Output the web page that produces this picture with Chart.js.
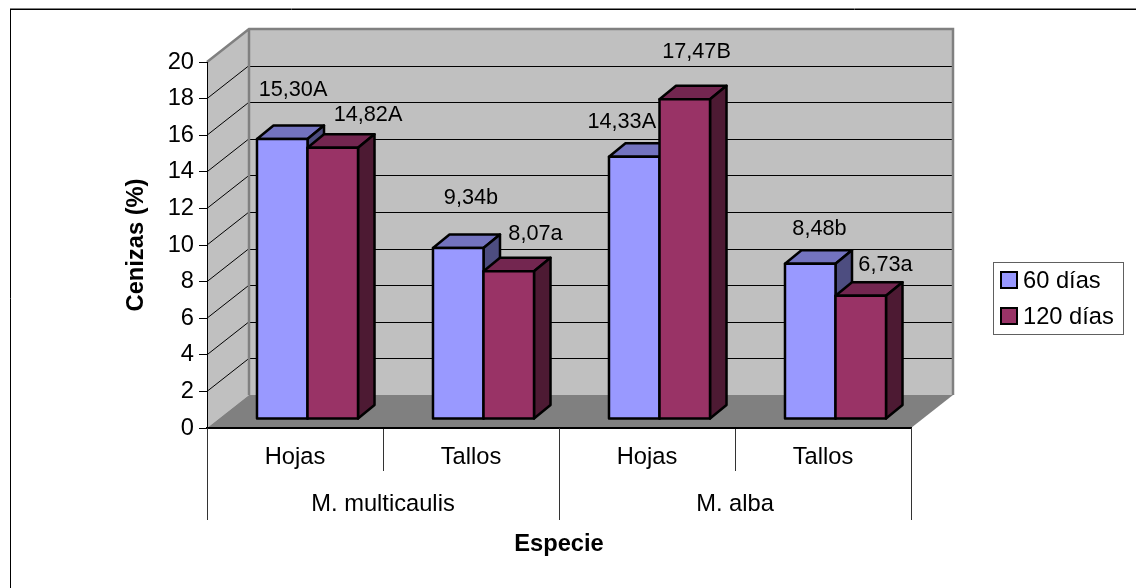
<!DOCTYPE html>
<html>
<head>
<meta charset="utf-8">
<title>Cenizas por especie</title>
<style>
  html, body { margin: 0; padding: 0; background: #fff; }
  #wrap { position: relative; width: 1136px; height: 588px; }
</style>
<script src="https://cdn.jsdelivr.net/npm/chart.js@4/dist/chart.umd.min.js"></script>
</head>
<body>
<div id="wrap"><canvas id="chart" width="1136" height="588"></canvas></div>
<script>
// Ash content by plant part, species and harvest age
const parts = ['Hojas', 'Tallos', 'Hojas', 'Tallos'];
const species = ['M. multicaulis', 'M. alba'];
const seriesNames = ['60 días', '120 días'];
const values60 = [15.30, 9.34, 14.33, 8.48];
const values120 = [14.82, 8.07, 17.47, 6.73];
const letters60 = ['A', 'b', 'A', 'b'];
const letters120 = ['A', 'a', 'B', 'a'];

const FONT = '"Liberation Sans", Arial, sans-serif';
const TEXT_SIZE = 23.7;
const VALUE_SIZE = 21.7;

// Perspective of the box: wall depth, and how far bars stand in from the front
const WALL = { dx: 42, dy: -33 };
const BAR_INSET = { dx: 12.5, dy: -9 };
const BAR_DEPTH = { dx: 16.5, dy: -13.5 };

const palettes = [
  { front: '#9999FF', top: '#7373BF', side: '#4D4D80' },
  { front: '#993366', top: '#732650', side: '#4D1A33' }
];
// Hand-placed label centres, relative to each bar's element position
const labelShift = [
  [[23.25, -58], [47.75, -42]],
  [[25.25, -59], [39.25, -46]],
  [[0, -44], [24.25, -56]],
  [[21.75, -44], [37.25, -40]]
];

function poly(ctx, pts, fill, stroke, width) {
  ctx.beginPath();
  pts.forEach((p, i) => i ? ctx.lineTo(p[0], p[1]) : ctx.moveTo(p[0], p[1]));
  ctx.closePath();
  if (fill) { ctx.fillStyle = fill; ctx.fill(); }
  if (stroke) { ctx.strokeStyle = stroke; ctx.lineWidth = width; ctx.stroke(); }
}

function line(ctx, x1, y1, x2, y2, color, width) {
  ctx.beginPath();
  ctx.moveTo(x1, y1);
  ctx.lineTo(x2, y2);
  ctx.strokeStyle = color;
  ctx.lineWidth = width;
  ctx.stroke();
}

const boxPlugin = {
  id: 'box3d',
  beforeDraw(chart) {
    const { ctx, chartArea: a, scales: { y } } = chart;
    const d = WALL;
    ctx.save();
    // top and left edges of the figure frame
    line(ctx, 10, 8.5, 1136, 8.5, '#808080', 1);
    line(ctx, 10, 9.5, 1136, 9.5, '#000', 1);
    line(ctx, 10.5, 9, 10.5, 588, '#000', 1);
    // left wall and back wall
    poly(ctx, [[a.left, a.top], [a.left + d.dx, a.top + d.dy], [a.left + d.dx, a.bottom + d.dy], [a.left, a.bottom]], '#C0C0C0');
    poly(ctx, [[a.left + d.dx, a.top + d.dy], [a.right + d.dx, a.top + d.dy], [a.right + d.dx, a.bottom + d.dy], [a.left + d.dx, a.bottom + d.dy]], '#C0C0C0');
    // gridlines wrap from the left wall onto the back wall
    y.ticks.forEach(t => {
      if (t.value === 0 || t.value === 20) return;
      const py = y.getPixelForValue(t.value);
      line(ctx, a.left, py, a.left + d.dx, py + d.dy, '#000', 1);
      line(ctx, a.left + d.dx, Math.round(py + d.dy) + 0.5, a.right + d.dx, Math.round(py + d.dy) + 0.5, '#000', 1);
    });
    // floor
    poly(ctx, [[a.left, a.bottom], [a.left + d.dx, a.bottom + d.dy], [a.right + d.dx, a.bottom + d.dy], [a.right, a.bottom]], '#808080');
    // wall edges
    ctx.lineJoin = 'miter';
    ctx.beginPath();
    ctx.moveTo(a.left, a.top);
    ctx.lineTo(a.left + d.dx, a.top + d.dy);
    ctx.lineTo(a.right + d.dx, a.top + d.dy);
    ctx.lineTo(a.right + d.dx, a.bottom + d.dy);
    ctx.moveTo(a.left + d.dx, a.top + d.dy);
    ctx.lineTo(a.left + d.dx, a.bottom + d.dy);
    ctx.strokeStyle = '#808080';
    ctx.lineWidth = 2.5;
    ctx.stroke();
    ctx.restore();
  },
  // Bars get a front, a top and a side face, from the bar elements' own geometry
  beforeDatasetsDraw(chart) {
    const { ctx } = chart;
    const d = BAR_DEPTH, s = BAR_INSET;
    ctx.save();
    ctx.lineJoin = 'round';
    parts.forEach((_, i) => {
      chart.data.datasets.forEach((ds, k) => {
        const el = chart.getDatasetMeta(k).data[i];
        const c = palettes[k];
        const l = el.x - el.width / 2 + s.dx, r = el.x + el.width / 2 + s.dx;
        const t = el.y + s.dy, b = el.base + s.dy;
        poly(ctx, [[l, t], [l + d.dx, t + d.dy], [r + d.dx, t + d.dy], [r, t]], c.top, '#000', 2.5);
        poly(ctx, [[r, t], [r + d.dx, t + d.dy], [r + d.dx, b + d.dy], [r, b]], c.side, '#000', 2.5);
        poly(ctx, [[l, t], [r, t], [r, b], [l, b]], c.front, '#000', 2.5);
      });
    });
    ctx.restore();
    return false;
  },
  afterDraw(chart) {
    const { ctx, chartArea: a, scales: { x } } = chart;
    ctx.save();
    ctx.fillStyle = '#000';
    ctx.textAlign = 'center';
    ctx.textBaseline = 'middle';
    ctx.font = VALUE_SIZE + 'px ' + FONT;
    // value labels
    chart.data.datasets.forEach((ds, k) => {
      const meta = chart.getDatasetMeta(k);
      const letters = k ? letters120 : letters60;
      ds.data.forEach((v, i) => {
        const el = meta.data[i];
        const text = v.toFixed(2).replace('.', ',') + letters[i];
        const sh = labelShift[i][k];
        ctx.fillText(text, el.x + sh[0], el.y + sh[1]);
      });
    });
    ctx.font = TEXT_SIZE + 'px ' + FONT;
    // second level of the category axis: species names and their separators
    const unit = (x.getPixelForValue(1) - x.getPixelForValue(0));
    const edge = i => x.getPixelForValue(i) - unit / 2;
    species.forEach((name, g) => {
      const from = edge(g * 2), to = edge(g * 2 + 2);
      ctx.fillText(name, (from + to) / 2, 504);
      line(ctx, Math.round(from) + 0.5, a.bottom, Math.round(from) + 0.5, 520, '#333', 1);
      line(ctx, Math.round(to) + 0.5, a.bottom, Math.round(to) + 0.5, 520, '#333', 1);
    });
    // axis titles
    ctx.font = 'bold ' + TEXT_SIZE + 'px ' + FONT;
    ctx.fillText('Especie', (a.left + a.right) / 2, 544);
    ctx.translate(136, 245);
    ctx.rotate(-Math.PI / 2);
    ctx.fillText('Cenizas (%)', 0, 0);
    ctx.restore();
    // legend
    ctx.save();
    ctx.strokeStyle = '#606060';
    ctx.lineWidth = 1;
    ctx.strokeRect(993.5, 262.5, 130, 72);
    seriesNames.forEach((name, k) => {
      const cy = 280 + k * 36;
      ctx.fillStyle = palettes[k].front;
      ctx.strokeStyle = '#000';
      ctx.lineWidth = 2;
      ctx.fillRect(1001, cy - 8, 16, 16);
      ctx.strokeRect(1001, cy - 8, 16, 16);
      ctx.fillStyle = '#000';
      ctx.font = TEXT_SIZE + 'px ' + FONT;
      ctx.textAlign = 'left';
      ctx.textBaseline = 'middle';
      ctx.fillText(name, 1023, cy + 1);
    });
    ctx.restore();
  }
};

new Chart(document.getElementById('chart'), {
  type: 'bar',
  data: {
    labels: parts,
    datasets: [
      { label: seriesNames[0], data: values60, backgroundColor: palettes[0].front, categoryPercentage: 0.574, barPercentage: 1 },
      { label: seriesNames[1], data: values120, backgroundColor: palettes[1].front, categoryPercentage: 0.574, barPercentage: 1 }
    ]
  },
  plugins: [boxPlugin],
  options: {
    responsive: false,
    animation: false,
    layout: { padding: { left: 0, top: 62, right: 225, bottom: 0 } },
    plugins: { legend: { display: false }, tooltip: { enabled: false } },
    scales: {
      x: {
        type: 'category',
        offset: true,
        afterFit(scale) { scale.height = 160; },
        grid: { drawOnChartArea: false, drawTicks: true, tickLength: 43, color: '#333', lineWidth: 1 },
        border: { color: '#000', width: 2 },
        ticks: {
          color: '#000',
          maxRotation: 0,
          autoSkip: false,
          padding: -28,
          font: { family: FONT, size: TEXT_SIZE }
        }
      },
      y: {
        min: 0,
        max: 20,
        afterFit(scale) { scale.width = 207; },
        grid: { drawOnChartArea: false, drawTicks: true, tickLength: 8, color: '#000', lineWidth: 1 },
        border: { color: '#000', width: 1 },
        ticks: {
          stepSize: 2,
          color: '#000',
          padding: 5,
          font: { family: FONT, size: TEXT_SIZE }
        }
      }
    }
  }
});
</script>
</body>
</html>
